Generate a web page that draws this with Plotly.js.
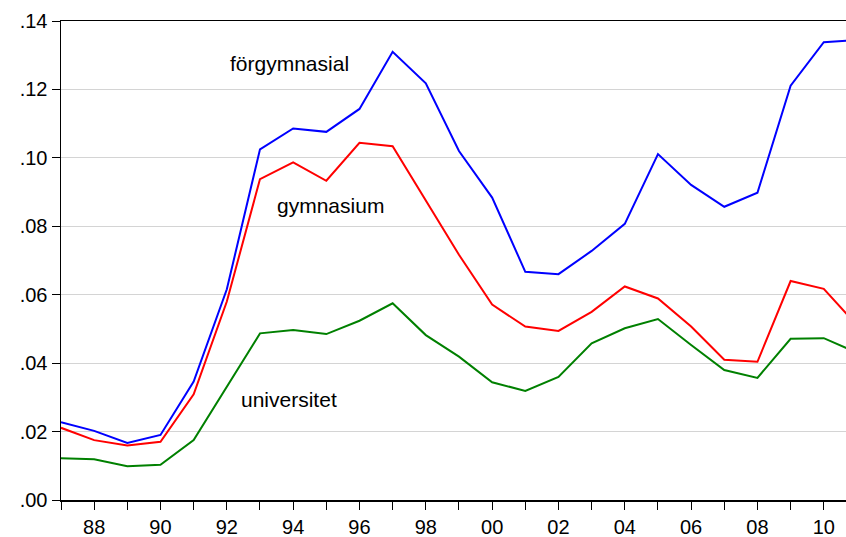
<!DOCTYPE html>
<html>
<head>
<meta charset="utf-8">
<script src="https://cdn.plot.ly/plotly-3.0.1.min.js"></script>
<style>html,body{margin:0;padding:0;background:#fff;}#chart{width:846px;height:537px;}</style>
</head>
<body>
<div id="chart"></div>
<script>
const years = [1987,1988,1989,1990,1991,1992,1993,1994,1995,1996,1997,1998,1999,2000,2001,2002,2003,2004,2005,2006,2007,2008,2009,2010,2011];
const forgymnasial = [0.0227,0.0202,0.0167,0.0190,0.0346,0.0616,0.1025,0.1086,0.1076,0.1143,0.1310,0.1218,0.1020,0.0884,0.0667,0.0660,0.0728,0.0807,0.1011,0.0921,0.0857,0.0898,0.1211,0.1338,0.1344];
const gymnasium = [0.0211,0.0175,0.0159,0.0170,0.0309,0.0580,0.0938,0.0987,0.0933,0.1044,0.1034,0.0874,0.0717,0.0571,0.0507,0.0494,0.0550,0.0624,0.0589,0.0507,0.0410,0.0404,0.0640,0.0617,0.0511];
const universitet = [0.0122,0.0119,0.0099,0.0103,0.0175,0.0331,0.0487,0.0497,0.0485,0.0524,0.0575,0.0482,0.0419,0.0344,0.0319,0.0360,0.0458,0.0502,0.0529,0.0453,0.0380,0.0357,0.0471,0.0473,0.0431];
const xTickVals = [1987,1988,1989,1990,1991,1992,1993,1994,1995,1996,1997,1998,1999,2000,2001,2002,2003,2004,2005,2006,2007,2008,2009,2010];
const xTickText = ['','88','','90','','92','','94','','96','','98','','00','','02','','04','','06','','08','','10'];
const yTickVals = [0,0.02,0.04,0.06,0.08,0.10,0.12,0.14];
const yTickText = ['.00','.02','.04','.06','.08','.10','.12','.14'];
const seriesNames = ['förgymnasial','gymnasium','universitet'];

const colors = ['#0000ff','#ff0000','#008000'];
const data = [forgymnasial, gymnasium, universitet].map((v,i)=>({
  x: years, y: v, type:'scatter', mode:'lines', name: seriesNames[i],
  line:{color:colors[i], width:2}
}));

const font = {family:'"Liberation Sans", Arial, sans-serif', size:20, color:'#000'};
const annFont = {family:'"Liberation Sans", Arial, sans-serif', size:21, color:'#000'};
const layout = {
  width:846, height:537,
  margin:{l:61, r:0, t:21, b:37, pad:0},
  paper_bgcolor:'#fff', plot_bgcolor:'#fff',
  showlegend:false,
  font: font,
  xaxis:{
    range:[1987, 2010.67], tickvals:xTickVals, ticktext:xTickText,
    ticks:'outside', ticklen:8, tickwidth:1, tickcolor:'#000',
    showline:true, linecolor:'#000', linewidth:1.5, mirror:true,
    showgrid:false, zeroline:false, tickfont:font, fixedrange:true
  },
  yaxis:{
    range:[0, 0.14], tickvals:yTickVals, ticktext:yTickText,
    ticks:'outside', ticklen:8, tickwidth:1, tickcolor:'#000',
    showline:true, linecolor:'#000', linewidth:1.5,
    showgrid:true, gridcolor:'#d4d4d4', gridwidth:1.2,
    zeroline:false, tickfont:font, fixedrange:true
  },
  annotations:[
    {x:1992.03, y:0.1277, xref:'x', yref:'y', text:seriesNames[0], showarrow:false, xanchor:'left', yanchor:'middle', font:annFont},
    {x:1993.45, y:0.0862, xref:'x', yref:'y', text:seriesNames[1], showarrow:false, xanchor:'left', yanchor:'middle', font:annFont},
    {x:1992.38, y:0.0295, xref:'x', yref:'y', text:seriesNames[2], showarrow:false, xanchor:'left', yanchor:'middle', font:annFont}
  ]
};
Plotly.newPlot('chart', data, layout, {staticPlot:true, displayModeBar:false});
</script>
</body>
</html>
